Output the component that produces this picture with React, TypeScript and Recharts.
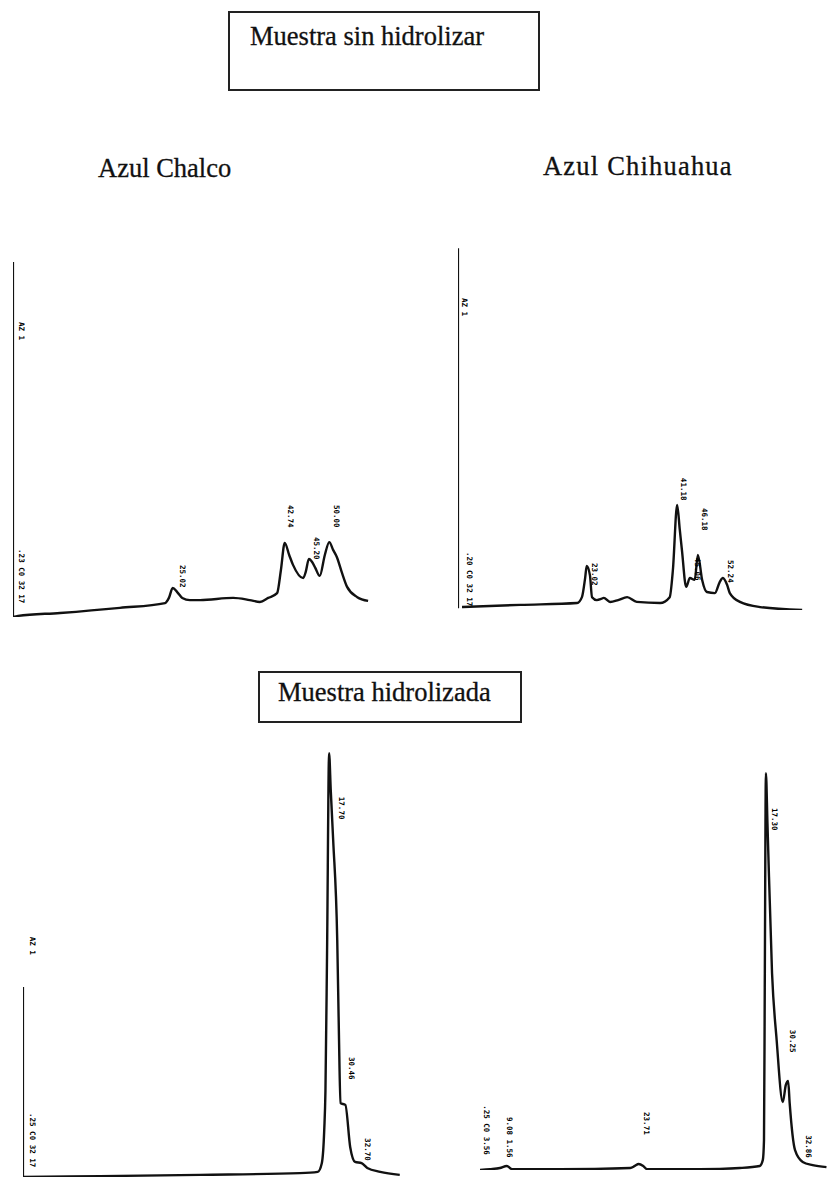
import { LineChart, Line, XAxis, YAxis, ReferenceLine, ReferenceDot } from 'recharts';

// Retention time (min) and detector signal (relative units, 0-100 of plot height)
const chalcoRaw = [
  { t: 0, v: 0 }, { t: 0.8, v: 0.3 }, { t: 7.4, v: 1.1 }, { t: 16.8, v: 2.5 },
  { t: 23.9, v: 3.8 }, { t: 24.5, v: 5.2 }, { t: 25.1, v: 7.9 }, { t: 25.8, v: 6.8 },
  { t: 26.6, v: 5.2 }, { t: 27.8, v: 4.6 }, { t: 29.4, v: 4.6 }, { t: 34.6, v: 5.2 },
  { t: 37.2, v: 4.6 }, { t: 38.8, v: 4.1 }, { t: 40.1, v: 5.2 }, { t: 41.5, v: 6.5 },
  { t: 42.1, v: 12.8 }, { t: 42.7, v: 20.2 }, { t: 43.4, v: 16.9 }, { t: 44.0, v: 14.2 },
  { t: 45.6, v: 10.6 }, { t: 46.0, v: 12.3 }, { t: 46.5, v: 15.8 }, { t: 47.0, v: 15.0 },
  { t: 47.5, v: 13.4 }, { t: 48.2, v: 11.2 }, { t: 49.0, v: 16.9 }, { t: 49.7, v: 20.4 },
  { t: 50.3, v: 18.3 }, { t: 50.9, v: 16.3 }, { t: 51.7, v: 12.0 }, { t: 52.5, v: 8.2 },
  { t: 54.1, v: 5.4 }, { t: 55.8, v: 4.4 },
];

const chihuahuaRaw = [
  { t: 0.75, v: 0.8 }, { t: 11.7, v: 1.4 }, { t: 22.4, v: 1.9 }, { t: 23.3, v: 3.5 },
  { t: 23.9, v: 8.7 }, { t: 24.2, v: 12.0 }, { t: 24.8, v: 9.5 }, { t: 25.2, v: 3.5 },
  { t: 26.1, v: 2.7 }, { t: 26.9, v: 3.0 }, { t: 27.4, v: 3.3 }, { t: 28.6, v: 2.2 },
  { t: 30.1, v: 2.7 }, { t: 31.8, v: 3.5 }, { t: 33.6, v: 2.2 }, { t: 38.0, v: 1.9 },
  { t: 39.8, v: 3.5 }, { t: 40.4, v: 10.9 }, { t: 41.2, v: 28.6 }, { t: 41.7, v: 21.8 },
  { t: 42.1, v: 16.3 }, { t: 42.9, v: 6.3 }, { t: 43.6, v: 8.7 }, { t: 44.5, v: 8.2 },
  { t: 45.1, v: 15.0 }, { t: 45.9, v: 8.2 }, { t: 46.8, v: 4.9 }, { t: 48.3, v: 4.6 },
  { t: 49.2, v: 7.6 }, { t: 49.8, v: 8.7 }, { t: 50.6, v: 6.8 }, { t: 51.1, v: 4.6 },
  { t: 53.0, v: 2.2 }, { t: 56.8, v: 0.8 }, { t: 64.7, v: 0 },
];

const chalcoHydro = [
  { t: 0, v: 0 }, { t: 9.5, v: 0.2 }, { t: 21.8, v: 0.5 }, { t: 34.1, v: 0.9 },
  { t: 36.3, v: 1.2 }, { t: 36.8, v: 3.2 }, { t: 37.1, v: 10.9 }, { t: 37.25, v: 20 },
  { t: 37.45, v: 52.5 }, { t: 37.7, v: 98.1 }, { t: 37.9, v: 89.6 }, { t: 38.2, v: 78.0 },
  { t: 38.7, v: 54.9 }, { t: 38.9, v: 34.0 }, { t: 39.1, v: 17.1 }, { t: 39.7, v: 16.7 },
  { t: 40.3, v: 6.9 }, { t: 40.9, v: 3.5 }, { t: 41.7, v: 3.2 }, { t: 42.4, v: 2.1 },
  { t: 44.0, v: 1.2 }, { t: 46.4, v: 0.5 },
];

const chihuahuaHydro = [
  { t: 0, v: 0 }, { t: 1.3, v: 0.2 }, { t: 2.6, v: 0.5 }, { t: 3.5, v: 1.0 },
  { t: 4.2, v: 0.2 }, { t: 10.4, v: 0.2 }, { t: 19.6, v: 0.5 }, { t: 20.2, v: 1.0 },
  { t: 20.7, v: 1.5 }, { t: 21.3, v: 1.0 }, { t: 21.8, v: 0.2 }, { t: 28.7, v: 0.2 },
  { t: 33.9, v: 0.5 }, { t: 36.5, v: 1.0 }, { t: 36.9, v: 2.5 }, { t: 37.05, v: 7.4 },
  { t: 37.15, v: 45 }, { t: 37.3, v: 98.0 }, { t: 37.5, v: 85.7 }, { t: 38.1, v: 48.6 },
  { t: 38.7, v: 32.1 }, { t: 39.5, v: 16.8 }, { t: 39.9, v: 21.0 }, { t: 40.2, v: 22.0 },
  { t: 40.4, v: 16.5 }, { t: 41.1, v: 4.9 }, { t: 42.1, v: 2.0 }, { t: 43.4, v: 1.2 },
  { t: 45.2, v: 0.7 },
];

// printed retention-time labels (position of label start, text)
const chalcoRawPeaks = [
  { t: 26.3, v: 14.2, text: '25.02' },
  { t: 43.2, v: 30.5, text: '42.74' },
  { t: 47.3, v: 21.8, text: '45.20' },
  { t: 50.5, v: 30.5, text: '50.00' },
  { t: 0.9, v: 80.4, text: 'AZ 1' },
  { t: 0.9, v: 18.5, text: '.23 C0 32 17' },
];

const chihuahuaRawPeaks = [
  { t: 25.1, v: 12.8, text: '23.02' },
  { t: 42.0, v: 36.0, text: '41.18' },
  { t: 45.9, v: 27.8, text: '46.18' },
  { t: 44.6, v: 14.2, text: '45.06' },
  { t: 50.8, v: 13.6, text: '52.24' },
  { t: 0.8, v: 85.0, text: 'AZ 1' },
  { t: 1.6, v: 15.8, text: '.20 C0 32 17' },
];

const chalcoHydroPeaks = [
  { t: 38.9, v: 88.0, text: '17.70' },
  { t: 40.1, v: 27.8, text: '30.46' },
  { t: 42.1, v: 9.0, text: '32.70' },
  { t: 0.9, v: 55.6, text: 'AZ 1' },
  { t: 0.9, v: 14.8, text: '.25 C0 32 17' },
];

const chihuahuaHydroPeaks = [
  { t: 21.4, v: 14.3, text: '23.71' },
  { t: 38.1, v: 89.4, text: '17.30' },
  { t: 40.5, v: 34.6, text: '30.25' },
  { t: 42.5, v: 8.6, text: '32.86' },
  { t: 0.5, v: 16.0, text: '.25 C0 3.56' },
  { t: 3.5, v: 13.1, text: '9.08 1.56' },
];

interface Peak { t: number; v: number; text: string }

interface ChromProps {
  left: number;
  top: number;
  width: number;
  height: number;
  xMax: number;
  data: { t: number; v: number }[];
  peaks: Peak[];
  axisFrom: number;
  axisTo: number;
}

function PeakLabel({ viewBox, text }: any) {
  const x = viewBox ? viewBox.x : 0;
  const y = viewBox ? viewBox.y : 0;
  return (
    <text
      x={x}
      y={y}
      transform={`rotate(90, ${x}, ${y})`}
      fontFamily="'DejaVu Sans Mono', monospace"
      fontWeight="bold"
      fontSize={7.5}
      fill="#000"
      textAnchor="start"
    >
      {text}
    </text>
  );
}

function Chromatogram({ left, top, width, height, xMax, data, peaks, axisFrom, axisTo }: ChromProps) {
  return (
    <div style={{ position: 'absolute', left, top }}>
      <LineChart
        width={width}
        height={height}
        data={data}
        margin={{ top: 0, right: 0, bottom: 0, left: 0 }}
        style={{ overflow: 'visible' }}
      >
        <XAxis type="number" dataKey="t" domain={[0, xMax]} hide allowDataOverflow />
        <YAxis type="number" domain={[0, 100]} hide allowDataOverflow />
        <ReferenceLine
          segment={[{ x: 0, y: axisFrom }, { x: 0, y: axisTo }]}
          stroke="#111"
          strokeWidth={2.2}
          ifOverflow="visible"
        />
        <Line
          type="monotone"
          dataKey="v"
          stroke="#111"
          strokeWidth={2.4}
          dot={false}
          isAnimationActive={false}
        />
        {peaks.map((p, i) => (
          <ReferenceDot
            key={i}
            x={p.t}
            y={p.v}
            r={0}
            stroke="none"
            fill="none"
            ifOverflow="visible"
            label={<PeakLabel text={p.text} />}
          />
        ))}
      </LineChart>
    </div>
  );
}

const serif = "'Liberation Serif', 'DejaVu Serif', 'Times New Roman', Times, serif";

const titleStyle = {
  position: 'absolute' as const,
  fontSize: 26.5,
  lineHeight: 1,
  whiteSpace: 'nowrap' as const,
  WebkitTextStroke: '0.3px #111',
};

export default function App() {
  return (
    <div
      style={{
        position: 'absolute',
        left: 0,
        top: 0,
        width: 828,
        height: 1189,
        background: '#fff',
        fontFamily: serif,
        color: '#111',
        overflow: 'hidden',
      }}
    >
      <div
        style={{
          position: 'absolute',
          left: 228,
          top: 11,
          width: 308,
          height: 76,
          border: '2px solid #222',
        }}
      />
      <div style={{ ...titleStyle, left: 250, top: 23 }}>Muestra sin hidrolizar</div>
      <div style={{ ...titleStyle, left: 98, top: 155 }}>Azul Chalco</div>
      <div style={{ ...titleStyle, left: 543, top: 153, letterSpacing: 1.2 }}>Azul Chihuahua</div>

      <div
        style={{
          position: 'absolute',
          left: 258,
          top: 671,
          width: 260,
          height: 48,
          border: '2px solid #222',
        }}
      />
      <div style={{ ...titleStyle, left: 278, top: 679 }}>Muestra hidrolizada</div>

      <Chromatogram
        left={13}
        top={250}
        width={360}
        height={367}
        xMax={56.57}
        data={chalcoRaw}
        peaks={chalcoRawPeaks}
        axisFrom={0}
        axisTo={96.7}
      />
      <Chromatogram
        left={458}
        top={243}
        width={350}
        height={367}
        xMax={65.8}
        data={chihuahuaRaw}
        peaks={chihuahuaRawPeaks}
        axisFrom={0.5}
        axisTo={98.6}
      />
      <Chromatogram
        left={23}
        top={745}
        width={380}
        height={432}
        xMax={46.8}
        data={chalcoHydro}
        peaks={chalcoHydroPeaks}
        axisFrom={0}
        axisTo={44.0}
      />
      <Chromatogram
        left={480}
        top={765}
        width={348}
        height={405}
        xMax={45.4}
        data={chihuahuaHydro}
        peaks={chihuahuaHydroPeaks}
        axisFrom={0}
        axisTo={-4.7}
      />
    </div>
  );
}
